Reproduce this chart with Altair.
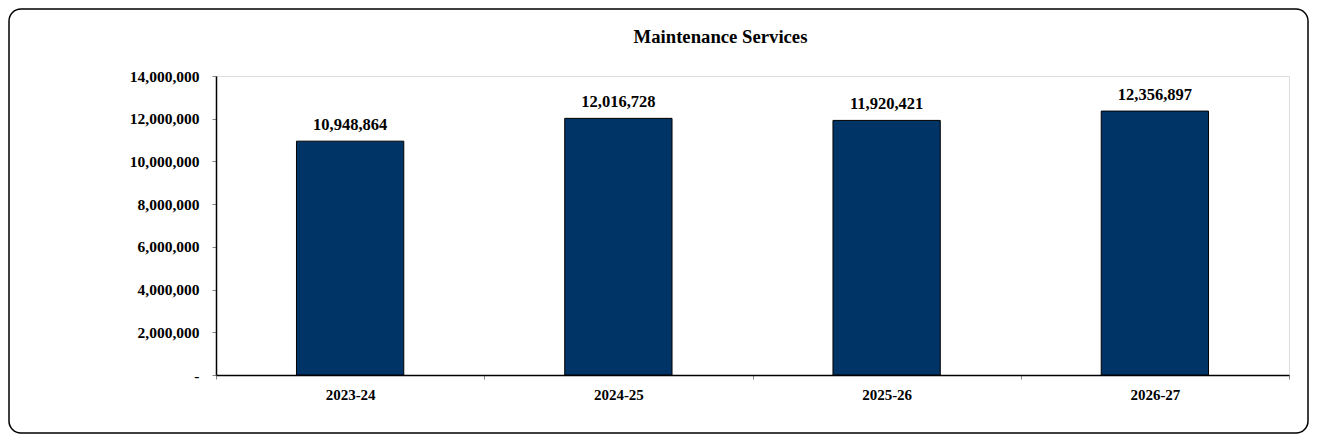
import altair as alt
import pandas as pd

years = ["2023-24", "2024-25", "2025-26", "2026-27"]
values = [10948864, 12016728, 11920421, 12356897]
y_ticks = [0, 2000000, 4000000, 6000000, 8000000, 10000000, 12000000, 14000000]
title_text = "Maintenance Services"

df = pd.DataFrame({"year": years, "value": values})

FONT = "Liberation Serif"
W, H = 1073, 299
PL, PT, PR, PB = 208, 68, 20, 59

x_enc = alt.X(
    "year:N",
    sort=years,
    scale=alt.Scale(paddingInner=0, paddingOuter=0),
    axis=alt.Axis(
        title=None,
        labelAngle=0,
        labelFont=FONT,
        labelFontSize=15,
        labelFontWeight="bold",
        labelColor="black",
        labelPadding=8,
        tickBand="extent",
        tickColor="#888888",
        tickSize=4,
        domainColor="black",
        domainWidth=1.5,
    ),
)
y_enc = alt.Y(
    "value:Q",
    scale=alt.Scale(domain=[0, 14000000], nice=False),
    axis=alt.Axis(
        title=None,
        values=y_ticks,
        labelExpr="datum.value == 0 ? '-' : format(datum.value, ',')",
        labelFont=FONT,
        labelFontSize=15.5,
        labelFontWeight="bold",
        labelColor="black",
        labelPadding=13,
        tickColor="#888888",
        tickSize=4,
        grid=False,
        domainColor="black",
        domainWidth=1.5,
    ),
)

base = alt.Chart(df)
bars = base.mark_bar(
    width=alt.RelativeBandSize(0.4),
    color="#003366",
    stroke="black",
    strokeWidth=1,
).encode(x=x_enc, y=y_enc)

labels = base.mark_text(
    font=FONT,
    fontSize=16.5,
    fontWeight="bold",
    color="black",
    baseline="alphabetic",
    dy=-11,
).encode(x=alt.X("year:N", sort=years), y="value:Q", text=alt.Text("value:Q", format=","))

frame = alt.Chart(pd.DataFrame({"k": [0]})).mark_rect(
    fill=None, stroke="black", strokeWidth=1.5, cornerRadius=12
).encode(
    x=alt.value(-PL + 1),
    x2=alt.value(W + PR - 1),
    y=alt.value(-PT + 1),
    y2=alt.value(H + PB - 1),
)

chart = alt.layer(frame, bars, labels).properties(
    width=W,
    height=H,
    padding={"left": PL, "top": PT, "right": PR, "bottom": PB},
    autosize=alt.AutoSizeParams(type="none"),
    title=alt.TitleParams(
        title_text,
        font=FONT,
        fontSize=18.7,
        fontWeight="bold",
        color="black",
        anchor="middle",
        baseline="alphabetic",
        dx=-32,
        offset=-53,
    ),
).configure_view(stroke=None).configure(background="white")

chart.save("out.html", embed_options={"renderer": "svg", "actions": False})
